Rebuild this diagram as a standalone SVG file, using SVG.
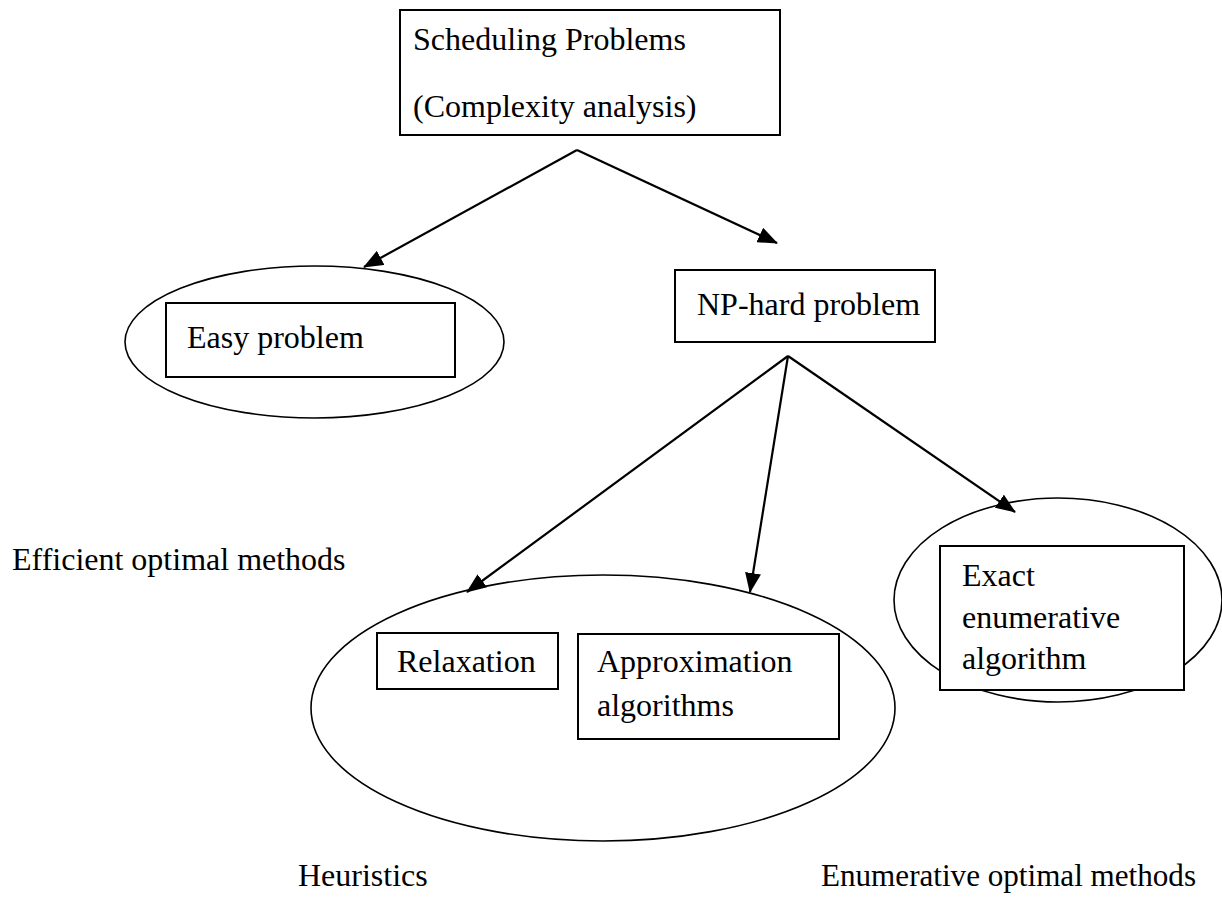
<svg xmlns="http://www.w3.org/2000/svg" width="1222" height="905" viewBox="0 0 1222 905">
  <style>
    .box { fill: #ffffff; stroke: #000000; stroke-width: 2; }
    .oval { fill: none; stroke: #000000; stroke-width: 1.6; }
    .lbl { font-family: "Liberation Serif", "Times New Roman", serif; font-size: 32px; fill: #000000; }
    .edge { fill: none; stroke: #000000; stroke-width: 2.2; marker-end: url(#arrow); }
  </style>
  <defs>
    <marker id="arrow" viewBox="0 0 20 16" refX="19" refY="8" markerWidth="20" markerHeight="16" markerUnits="userSpaceOnUse" orient="auto">
      <path d="M0,0 L20,8 L0,16 z" fill="#000000"/>
    </marker>
  </defs>
  <rect width="1222" height="905" fill="#ffffff"/>

  <g id="root">
    <rect class="box" x="400" y="10" width="380" height="125"/>
    <text class="lbl" x="413" y="50">Scheduling Problems</text>
    <text class="lbl" x="413" y="117">(Complexity analysis)</text>
  </g>

  <g id="easy">
    <ellipse class="oval" cx="314.5" cy="342" rx="189.5" ry="76"/>
    <rect class="box" x="166" y="303" width="289" height="74"/>
    <text class="lbl" x="187" y="348">Easy problem</text>
  </g>

  <g id="nphard">
    <rect class="box" x="675" y="270" width="260" height="72"/>
    <text class="lbl" x="697" y="315">NP-hard problem</text>
  </g>

  <g id="heuristics">
    <ellipse class="oval" cx="603" cy="708" rx="292" ry="133"/>
    <rect class="box" x="377" y="633" width="181" height="56"/>
    <text class="lbl" x="397" y="672">Relaxation</text>
    <rect class="box" x="578" y="634" width="261" height="105"/>
    <text class="lbl" x="597" y="672">Approximation</text>
    <text class="lbl" x="597" y="716">algorithms</text>
  </g>

  <g id="exact">
    <ellipse class="oval" cx="1058" cy="600" rx="164" ry="102"/>
    <rect class="box" x="940" y="546" width="244" height="144"/>
    <text class="lbl" x="962" y="586">Exact</text>
    <text class="lbl" x="962" y="628">enumerative</text>
    <text class="lbl" x="962" y="669">algorithm</text>
  </g>

  <g id="captions">
    <text class="lbl" x="12" y="570">Efficient optimal methods</text>
    <text class="lbl" x="298" y="886">Heuristics</text>
    <text class="lbl" x="821" y="886" textLength="375" lengthAdjust="spacingAndGlyphs">Enumerative optimal methods</text>
  </g>

  <g id="connectors">
    <line class="edge" x1="577" y1="150" x2="364" y2="267"/>
    <line class="edge" x1="577" y1="150" x2="777" y2="243"/>
    <line class="edge" x1="788" y1="356" x2="467" y2="592"/>
    <line class="edge" x1="788" y1="356" x2="750" y2="592"/>
    <line class="edge" x1="788" y1="356" x2="1015" y2="512"/>
  </g>
</svg>
